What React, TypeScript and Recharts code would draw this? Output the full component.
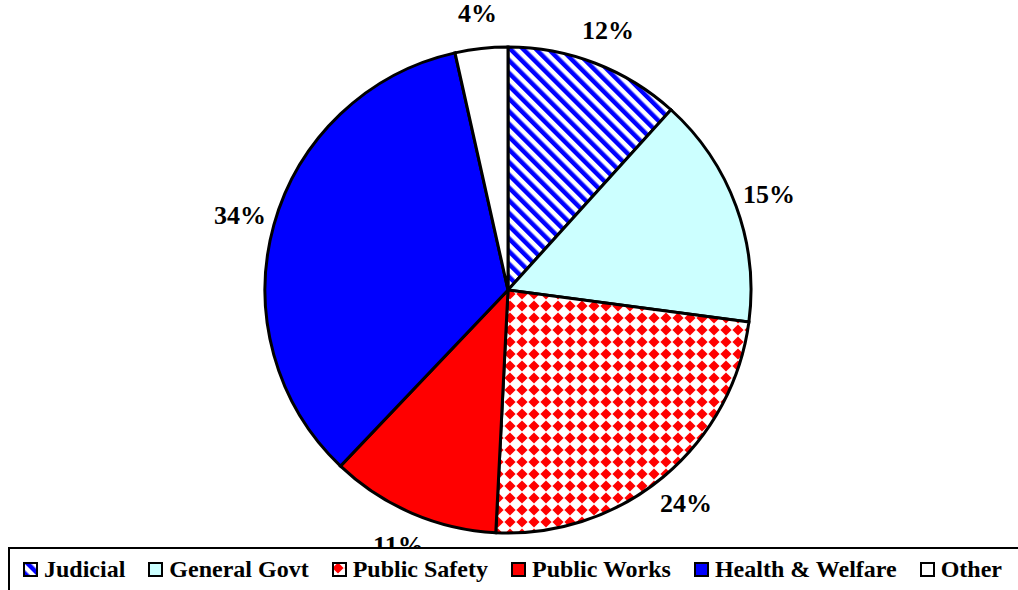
import React from "react";
import { PieChart, Pie, Cell, Legend } from "recharts";

// Spending share by function (percent of total)
const categories = ["Judicial", "General Govt", "Public Safety", "Public Works", "Health & Welfare", "Other"];
const shares = [11.7, 15.4, 23.7, 11.3, 34.4, 3.5];
const fills = ["url(#judicialStripes)", "#CCFFFF", "url(#safetyDiamonds)", "#FF0000", "#0000FF", "#FFFFFF"];

const data = categories.map((name, i) => ({ name, value: shares[i] }));

const RADIAN = Math.PI / 180;
const FONT = "'Liberation Serif', 'Times New Roman', serif";

const renderLabel = (props: any) => {
  const { cx, cy, midAngle, percent } = props;
  const r = 278;
  const x = cx + r * Math.cos(-midAngle * RADIAN);
  const y = cy + r * Math.sin(-midAngle * RADIAN);
  return (
    <text
      x={x}
      y={y}
      fill="#000"
      textAnchor="middle"
      dominantBaseline="central"
      style={{ fontFamily: FONT, fontWeight: "bold", fontSize: 26 }}
    >
      {`${Math.round(percent * 100)}%`}
    </text>
  );
};

const renderLegend = () => (
  <div
    style={{
      boxSizing: "border-box",
      width: 1030,
      height: 60,
      border: "2px solid #000",
      background: "#fff",
      display: "flex",
      alignItems: "flex-start",
      paddingTop: 8,
      paddingLeft: 13,
      fontFamily: FONT,
      fontWeight: "bold",
      fontSize: 24,
      whiteSpace: "nowrap",
    }}
  >
    {categories.map((name, i) => (
      <div key={name} style={{ display: "flex", alignItems: "center", marginRight: 23 }}>
        <svg width={15} height={15} style={{ marginRight: 6, flexShrink: 0 }}>
          <rect x={1} y={1} width={13} height={13} fill={fills[i]} stroke="#000" strokeWidth={2} />
        </svg>
        <span style={{ lineHeight: "24px" }}>{name}</span>
      </div>
    ))}
  </div>
);

export default function App() {
  return (
    <div style={{ position: "absolute", left: 0, top: 0, width: 1018, height: 590, background: "#fff", overflow: "hidden" }}>
      <svg width={0} height={0} style={{ position: "absolute" }}>
        <defs>
          <pattern id="judicialStripes" patternUnits="userSpaceOnUse" width={9} height={9} patternTransform="rotate(-45)">
            <rect x={0} y={0} width={9} height={9} fill="#fff" />
            <rect x={0} y={0} width={4.5} height={9} fill="#0000FF" />
          </pattern>
          <pattern id="safetyDiamonds" patternUnits="userSpaceOnUse" width={12} height={12}>
            <rect x={0} y={0} width={12} height={12} fill="#fff" />
            <polygon points="6,0.4 11.6,6 6,11.6 0.4,6" fill="#FF0000" />
          </pattern>
        </defs>
      </svg>
      <PieChart width={1018} height={590} margin={{ top: 0, right: 0, bottom: 0, left: 0 }}>
        <Pie
          data={data}
          dataKey="value"
          nameKey="name"
          cx={508}
          cy={290}
          outerRadius={243}
          startAngle={90}
          endAngle={-270}
          stroke="#000"
          strokeWidth={3}
          label={renderLabel}
          labelLine={false}
          isAnimationActive={false}
        >
          {data.map((entry, index) => (
            <Cell key={`cell-${index}`} fill={fills[index]} />
          ))}
        </Pie>
        <Legend
          content={renderLegend}
          wrapperStyle={{ position: "absolute", left: 8, top: 547, width: 1030, height: 60 }}
        />
      </PieChart>
    </div>
  );
}
